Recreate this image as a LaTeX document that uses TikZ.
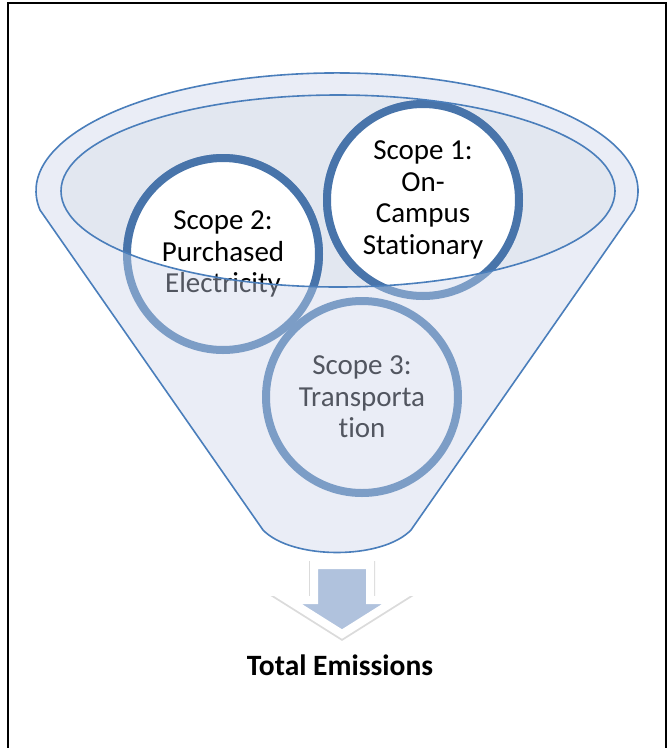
\documentclass[tikz,border=0pt]{standalone}
\usepackage{fontspec}
\setmainfont[Ligatures=NoCommon]{Carlito}
\usetikzlibrary{shadows}

\definecolor{funnelline}{RGB}{74,126,187}
\definecolor{rimfill}{RGB}{234,237,246}
\definecolor{innerfill}{RGB}{226,231,240}
\definecolor{ringdark}{RGB}{72,116,170}
\definecolor{ringlight}{RGB}{124,157,198}
\definecolor{textgrey}{RGB}{82,86,96}
\definecolor{arrowfill}{RGB}{176,194,221}

\def\ringsize{192pt}

\begin{document}
\begin{tikzpicture}[x=1pt,y=1pt,font=\fontsize{29}{31.5}\selectfont]
    \tikzstyle{bright ring}=[circle,draw=ringdark,line width=8pt,fill=white,text=black,minimum size=\ringsize,inner sep=0pt,align=center,drop shadow={opacity=0.15,shadow xshift=1pt,shadow yshift=-2pt}]
    \tikzstyle{faded ring}=[circle,draw=ringlight,line width=8pt,fill=rimfill,text=textgrey,minimum size=\ringsize,inner sep=0pt,align=center,drop shadow={opacity=0.15,shadow xshift=1pt,shadow yshift=-2pt}]
    \tikzstyle{funnel edge}=[draw=funnelline,line width=1.6pt]

    \def\scopecircles{
        \node[ring] (s2) at (223,-254) {Scope 2:\\Purchased\\Electricity};
        \node[ring] (s1) at (423,-200) {Scope 1:\\On-\\Campus\\Stationary};
        \node[ring] (s3) at (362,-397) {Scope 3:\\Transporta\\tion};
    }
    \def\arrowpath{(314,-565) -- (370,-565) -- (370,-600) -- (396,-600) -- (342,-634) -- (288,-600) -- (314,-600) -- cycle}

    \useasboundingbox (0,0) rectangle (668,-748);
    \draw[line width=1.5pt] (8,-760) -- (8,-3) -- (666,-3) -- (666,-760);

    % funnel: rim on top, body below
    \filldraw[funnel edge,fill=rimfill] (40,-210) arc[start angle=189.3,end angle=-9.3,x radius=301,y radius=118]
        -- (411,-530) .. controls (382,-560) and (292,-560) .. (263,-530) -- cycle;
    \fill[innerfill] (338,-191) ellipse[x radius=277,y radius=96];

    % circles seen through the funnel wall
    \begin{scope}
        \tikzstyle{ring}=[faded ring]
        \scopecircles
    \end{scope}
    % and the parts inside the opening
    \begin{scope}
        \clip (338,-191) ellipse[x radius=277,y radius=96];
        \tikzstyle{ring}=[bright ring]
        \scopecircles
    \end{scope}
    \draw[funnel edge] (338,-191) ellipse[x radius=277,y radius=96];

    % down arrow with a soft grey edge round its white border
    \draw[black!14,line width=10pt,line join=miter,yshift=-1pt] \arrowpath;
    \filldraw[fill=arrowfill,draw=white,line width=8pt,line join=miter] \arrowpath;

    \node[font=\fontsize{29.5}{34}\selectfont\bfseries] (total) at (340,-665) {Total Emissions};
\end{tikzpicture}
\end{document}
